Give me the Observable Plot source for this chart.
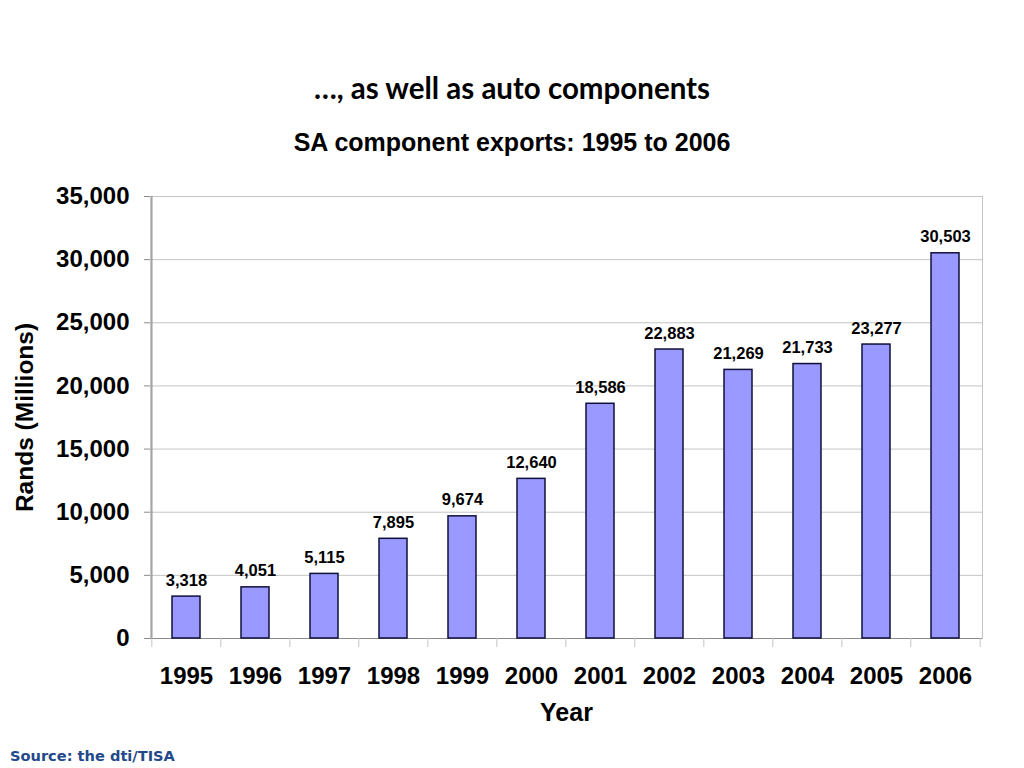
<!DOCTYPE html>
<html>
<head>
<meta charset="utf-8">
<script src="https://cdn.jsdelivr.net/npm/d3@7"></script>
<script src="https://cdn.jsdelivr.net/npm/@observablehq/plot@0.6"></script>
<style>
  html, body { margin: 0; padding: 0; background: #fff; }
  #wrap { position: relative; width: 1024px; height: 768px; overflow: hidden; }
  #title { position: absolute; top: 70px; left: 0; width: 1024px; text-align: center;
    font-family: Lato, "Open Sans", sans-serif; font-weight: bold; font-size: 29.5px; color: #000; line-height: 36px; }
  #subtitle { position: absolute; top: 127px; left: 0; width: 1024px; text-align: center;
    font-family: "Liberation Sans", Arial, sans-serif; font-weight: bold; font-size: 25px; color: #000; line-height: 30px; }
  #chart { position: absolute; top: 170px; left: 0; }
  #source { position: absolute; top: 747px; left: 10px;
    font-family: "DejaVu Sans", Verdana, sans-serif; font-weight: bold; font-size: 14.6px; color: #24498a; }
</style>
</head>
<body>
<div id="wrap">
  <div id="title">…, as well as auto components</div>
  <div id="subtitle">SA component exports: 1995 to 2006</div>
  <div id="chart"></div>
  <div id="source">Source: the dti/TISA</div>
</div>
<script>
const years = ["1995","1996","1997","1998","1999","2000","2001","2002","2003","2004","2005","2006"];
const exportsValues = [3318, 4051, 5115, 7895, 9674, 12640, 18586, 22883, 21269, 21733, 23277, 30503];
const yTicks = [0, 5000, 10000, 15000, 20000, 25000, 30000, 35000];

const data = years.map((y, i) => ({year: y, value: exportsValues[i]}));
const fmt = d3.format(",");

const W = 1024, H = 570, mL = 150, mR = 42, mT = 26, mB = 102;
const bw = (W - mL - mR) / years.length;
const plotH = H - mT - mB;

const chart = Plot.plot({
  width: W,
  height: H,
  marginLeft: mL,
  marginRight: mR,
  marginTop: mT,
  marginBottom: mB,
  style: {fontFamily: "'Liberation Sans', Arial, sans-serif", background: "#fff", color: "#000"},
  x: {domain: years, paddingInner: 0.59, paddingOuter: 0.295, label: null},
  y: {domain: [0, 35000], label: null},
  marks: [
    Plot.gridY(yTicks, {stroke: "#c4c4c4", strokeOpacity: 1, strokeWidth: 1}),
    Plot.frame({stroke: "#c4c4c4", strokeWidth: 1}),
    Plot.ruleX([years[0]], {x: d => d, dx: -bw / 2, stroke: "#8a8a8a", strokeWidth: 1.2}),
    Plot.ruleY([0], {stroke: "#8a8a8a", strokeWidth: 1.2}),
    // x tick marks at category boundaries
    Plot.ruleX(years, {x: d => d, dx: -bw / 2, stroke: "#c4c4c4", insetTop: plotH, insetBottom: -9}),
    Plot.ruleX([years[years.length - 1]], {x: d => d, dx: bw / 2, stroke: "#c4c4c4", insetTop: plotH, insetBottom: -9}),
    Plot.barY(data, {x: "year", y: "value", fill: "#9999ff", stroke: "#10103a", strokeWidth: 1.5}),
    Plot.text(data, {x: "year", y: "value", text: d => fmt(d.value), dy: -11, lineAnchor: "bottom",
      fontSize: 16.5, fontWeight: "bold", fill: "#000"}),
    Plot.axisY(yTicks, {tickFormat: d => fmt(d), fontSize: 24, fontWeight: "bold", tickSize: 6, tickPadding: 15,
      stroke: "#8a8a8a", fill: "#000", label: null}),
    Plot.axisX({tickSize: 0, tickPadding: 28, fontSize: 24, fontWeight: "bold", label: null}),
    Plot.text(["Year"], {frameAnchor: "bottom", dy: 82, fontSize: 25, fontWeight: "bold", fill: "#000"}),
    Plot.text(["Rands (Millions)"], {frameAnchor: "left", textAnchor: "middle", dx: -125, rotate: -90,
      fontSize: 24.5, fontWeight: "bold", fill: "#000"})
  ]
});
document.getElementById("chart").appendChild(chart);
</script>
</body>
</html>
